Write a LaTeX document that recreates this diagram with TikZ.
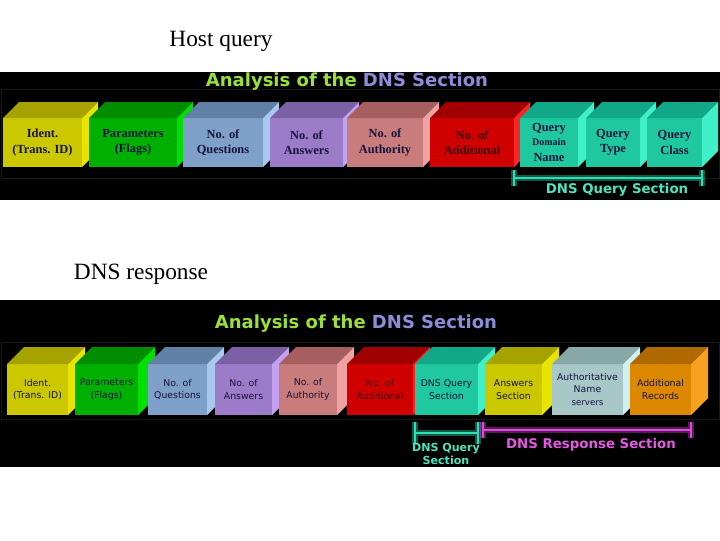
\documentclass[tikz,border=0pt]{standalone}
\usepackage{fontspec}
\setmainfont{Liberation Serif}
\newfontfamily\titlefont{DejaVu Sans}
\definecolor{tgreen}{HTML}{9AE03A}
\definecolor{tblue}{HTML}{8C8CD8}
\definecolor{navy}{HTML}{14143C}
\definecolor{yF}{HTML}{CCC800}\definecolor{yT}{HTML}{A6A200}\definecolor{yS}{HTML}{E8E400}
\definecolor{gF}{HTML}{00B000}\definecolor{gT}{HTML}{008E00}\definecolor{gS}{HTML}{00E000}
\definecolor{qF}{HTML}{7FA0C8}\definecolor{qT}{HTML}{6080A6}\definecolor{qS}{HTML}{A8C8F0}
\definecolor{aF}{HTML}{9C7CC8}\definecolor{aT}{HTML}{7C60A6}\definecolor{aS}{HTML}{C2A2F0}
\definecolor{uF}{HTML}{C87C7C}\definecolor{uT}{HTML}{A65E5E}\definecolor{uS}{HTML}{F0A2A2}
\definecolor{rF}{HTML}{D00000}\definecolor{rT}{HTML}{A00000}\definecolor{rS}{HTML}{FF2424}
\definecolor{tF}{HTML}{20C8A0}\definecolor{tT}{HTML}{10A888}\definecolor{tS}{HTML}{40F0C8}
\definecolor{nF}{HTML}{A8C8C8}\definecolor{nT}{HTML}{88A8A8}\definecolor{nS}{HTML}{D0F0F0}
\definecolor{oF}{HTML}{DC8800}\definecolor{oT}{HTML}{B06800}\definecolor{oS}{HTML}{F8A020}
\definecolor{bteal}{HTML}{2CE0B4}
\definecolor{bmag}{HTML}{E048E0}
\tikzset{
  cubefront/.style={fill=#1, inner sep=0pt, outer sep=0pt, align=center},
  ponetext/.style={font=\bfseries\fontsize{9.3}{11.5}\selectfont, text=navy},
  ptwotext/.style={font=\titlefont\fontsize{7}{9.5}\selectfont, text=navy},
  titletext/.style={font=\titlefont\bfseries\fontsize{13.5}{15}\selectfont},
  captext/.style={font=\fontsize{17.5}{20}\selectfont, text=black},
  glowline/.style={draw=#1, line width=4.5pt, opacity=0.4},
  brline/.style={draw=#1, line width=1.5pt},
  brtext/.style={font=\titlefont\bfseries\fontsize{#1}{#1}\selectfont},
  band/.style={draw=black!90, line width=0.6pt}
}
% #1 name, #2 x1, #3 x2, #4 text style, #5 front, #6 top, #7 side, #8 text
\newcommand\mycube[8]{%
  \pgfmathsetmacro\cw{(#3-#2)*0.75}%
  \pgfmathsetmacro\ch{(\cyb-\cya)*0.75}%
  \node[cubefront=#5, #4, minimum width=\cw pt, minimum height=\ch pt] (#1)
    at ({(#2+#3)/2},{(\cya+\cyb)/2}) {#8};
  \fill[#6] (#1.north west) -- ++(\cd,-\cd) -- ([shift={(\cd,-\cd)}]#1.north east) -- (#1.north east) -- cycle;
  \fill[#7] (#1.north east) -- ++(\cd,-\cd) -- ([shift={(\cd,-\cd)}]#1.south east) -- (#1.south east) -- cycle;
}
\begin{document}
\begin{tikzpicture}[x=0.75pt,y=-0.75pt]
\useasboundingbox (0,0) rectangle (720,540);
\fill[white] (0,0) rectangle (720,540);
% captions
\node[captext] (cap1) at (221,41) {Host query};
\node[captext] (cap2) at (141,274) {DNS response};
% panels
\fill[black] (0,72) rectangle (720,200);
\fill[black] (0,300) rectangle (720,467);
\draw[band] (1,89) rectangle (719,178);
\draw[band] (1,342) rectangle (719,419);
% titles
\node[titletext] (title1) at (347,81.5) {\textcolor{tgreen}{Analysis of the} \textcolor{tblue}{DNS Section}};
\node[titletext] (title2) at (356,324) {\textcolor{tgreen}{Analysis of the} \textcolor{tblue}{DNS Section}};
% panel 1 cubes
\def\cya{118}\def\cyb{167}\def\cd{16}
\mycube{p1a}{3}{82}{ponetext}{yF}{yT}{yS}{Ident.\\(Trans. ID)}
\mycube{p1b}{89}{177}{ponetext}{gF}{gT}{gS}{Parameters\\(Flags)}
\mycube{p1c}{183}{263}{ponetext}{qF}{qT}{qS}{No. of\\Questions}
\mycube{p1d}{270}{343}{ponetext}{aF}{aT}{aS}{No. of\\Answers}
\mycube{p1e}{347}{423}{ponetext}{uF}{uT}{uS}{No. of\\Authority}
\mycube{p1f}{430}{514}{ponetext, text=black!75!red}{rF}{rT}{rS}{No. of\\Additional}
\mycube{p1g}{520}{578}{ponetext}{tF}{tT}{tS}{Query\\[-1pt]\fontsize{7.5}{9}\selectfont Domain\\Name}
\mycube{p1h}{586}{640}{ponetext}{tF}{tT}{tS}{Query\\Type}
\mycube{p1i}{647}{702}{ponetext}{tF}{tT}{tS}{Query\\Class}
% panel 1 bracket
\coordinate (b1l) at (514,178);
\coordinate (b1r) at (702,178);
\draw[glowline=bteal] (b1l) -- (b1r) (b1l) ++(0,-8) -- ++(0,16) (b1r) ++(0,-8) -- ++(0,16);
\draw[brline=bteal] (b1l) -- (b1r) (b1l) ++(0,-8) -- ++(0,16) (b1r) ++(0,-8) -- ++(0,16);
\node[brtext=10, text=bteal!85!white] (q1) at (617,190) {DNS Query Section};
% panel 2 cubes
\def\cya{364}\def\cyb{415}\def\cd{17}
\mycube{p2a}{7}{68}{ptwotext}{yF}{yT}{yS}{Ident.\\(Trans. ID)}
\mycube{p2b}{75}{138}{ptwotext}{gF}{gT}{gS}{Parameters\\(Flags)}
\mycube{p2c}{148}{207}{ptwotext}{qF}{qT}{qS}{No. of\\Questions}
\mycube{p2d}{215}{272}{ptwotext}{aF}{aT}{aS}{No. of\\Answers}
\mycube{p2e}{279}{337}{ptwotext}{uF}{uT}{uS}{No. of\\Authority}
\mycube{p2f}{347}{413}{ptwotext, text=black!75!red}{rF}{rT}{rS}{No. of\\Additional}
\mycube{p2g}{415}{478}{ptwotext}{tF}{tT}{tS}{DNS Query\\Section}
\mycube{p2h}{485}{542}{ptwotext}{yF}{yT}{yS}{Answers\\Section}
\mycube{p2i}{552}{623}{ptwotext}{nF}{nT}{nS}{Authoritative\\Name\\\fontsize{6.5}{8}\selectfont servers}
\mycube{p2j}{630}{691}{ptwotext}{oF}{oT}{oS}{Additional\\Records}
% panel 2 brackets
\coordinate (b2l) at (415,433);
\coordinate (b2r) at (478,433);
\coordinate (b3l) at (483,430);
\coordinate (b3r) at (691,430);
\draw[glowline=bteal] (b2l) -- (b2r) (b2l) ++(0,-11) -- ++(0,22) (b2r) ++(0,-11) -- ++(0,22);
\draw[brline=bteal] (b2l) -- (b2r) (b2l) ++(0,-11) -- ++(0,22) (b2r) ++(0,-11) -- ++(0,22);
\draw[glowline=bmag] (b3l) -- (b3r) (b3l) ++(0,-8) -- ++(0,16) (b3r) ++(0,-8) -- ++(0,16);
\draw[brline=bmag] (b3l) -- (b3r) (b3l) ++(0,-8) -- ++(0,16) (b3r) ++(0,-8) -- ++(0,16);
\node[brtext=8.3, text=bteal!85!white, align=center] (q2) at (446,454) {DNS Query\\[1pt]Section};
\node[brtext=10, text=bmag!90!white] (r2) at (591,445) {DNS Response Section};
\end{tikzpicture}
\end{document}
